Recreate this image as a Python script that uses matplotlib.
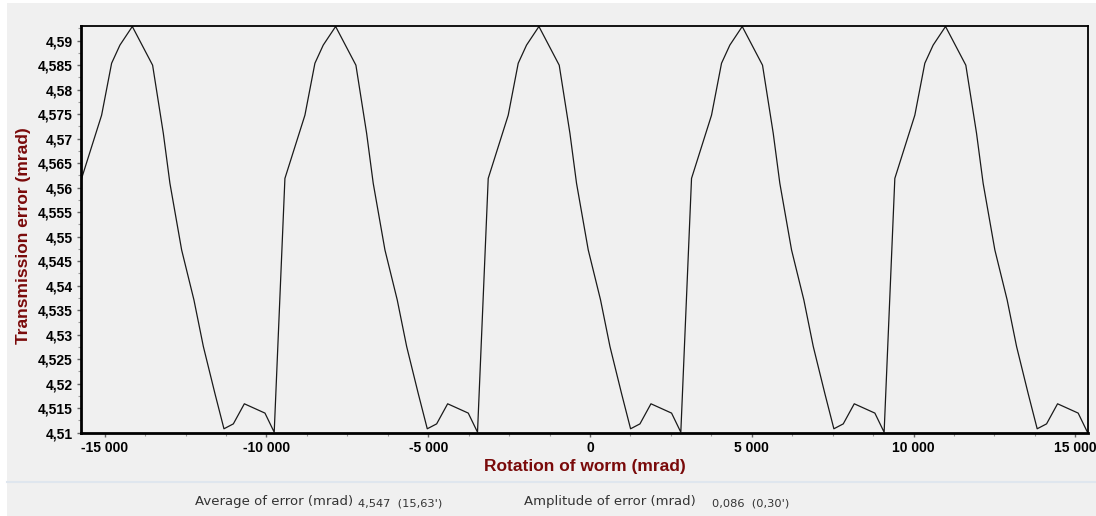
import matplotlib
matplotlib.use("Agg")
import matplotlib.pyplot as plt
from matplotlib.ticker import MultipleLocator, FuncFormatter
from matplotlib.patches import Rectangle

# one tooth period of the transmission error curve
# offsets (mrad) from the minimum at the bottom of each jump
period_dx = [0, 331, 949, 1258, 1515, 1898, 2525, 2856, 3060, 3422, 3802,
             4093, 4451, 4730, 5020, 5360, 5997]
period_err = [4.5101, 4.5619, 4.5748, 4.5854, 4.5891, 4.5929, 4.5850, 4.5711,
              4.5609, 4.5473, 4.5371, 4.5276, 4.5180, 4.5108, 4.5118, 4.5159,
              4.5140]
# positions of the minima (start of each period)
period_start = [-16042, -9759, -3476, 2807, 9090, 15373]

x_first, x_last = -15720, 15380
avg_text = "4,547  (15,63')"
amp_text = "0,086  (0,30')"

rotation = []
error = []
for s in period_start:
    for dx, e in zip(period_dx, period_err):
        if x_first <= s + dx <= x_last:
            rotation.append(s + dx)
            error.append(e)

fig = plt.figure(figsize=(10.96, 5.16), dpi=100, facecolor="white")
fig.patches.append(Rectangle((7 / 1096, 0), 1, 1 - 3 / 516, transform=fig.transFigure,
                             facecolor="#f0f0f0", edgecolor="none", zorder=-10))
# separator line above the stats panel
fig.lines.append(plt.Line2D([7 / 1096, 1], [1 - 482 / 516] * 2, transform=fig.transFigure,
                            color="#dfe6ee", lw=1.5))

ax = fig.add_axes([81 / 1096, 1 - 432.7 / 516, (1088.3 - 81) / 1096, (432.7 - 26) / 516])
ax.set_facecolor("#f0f0f0")
ax.plot(rotation, error, color="#1a1a1a", lw=0.9)

ax.set_xlim(-15730, 15400)
ax.set_ylim(4.51, 4.593)

ax.xaxis.set_major_locator(MultipleLocator(5000))
ax.xaxis.set_minor_locator(MultipleLocator(1250))
ax.yaxis.set_major_locator(MultipleLocator(0.005))
ax.yaxis.set_minor_locator(MultipleLocator(0.0025))
ax.xaxis.set_major_formatter(FuncFormatter(lambda v, p: f"{int(round(v)):,}".replace(",", " ")))
ax.yaxis.set_major_formatter(FuncFormatter(
    lambda v, p: f"{round(v, 4):.3f}".rstrip("0").rstrip(".").replace(".", ",")))

tick_font = {"family": "Liberation Sans", "weight": "bold", "size": 10}
for lab in ax.get_xticklabels() + ax.get_yticklabels():
    lab.set_fontproperties(matplotlib.font_manager.FontProperties(**tick_font))
ax.tick_params(which="major", length=3, width=1, color="#666666", pad=3)
ax.tick_params(which="minor", length=2, width=0.8, color="#999999")

ax.spines["left"].set_linewidth(2)
ax.spines["bottom"].set_linewidth(2)
ax.spines["top"].set_linewidth(1.3)
ax.spines["right"].set_linewidth(1.3)

label_font = dict(family="Liberation Sans", weight="bold", size=12.5, color="#7a0a0a")
ax.set_xlabel("Rotation of worm (mrad)", labelpad=3, **label_font)
ax.set_ylabel("Transmission error (mrad)", labelpad=4, **label_font)
ax.yaxis.set_label_coords(-0.05, 0.485)

# stats panel at the bottom
fig.text(195 / 1096, 1 - 502 / 516, "Average of error (mrad)", family="DejaVu Sans",
         size=9.5, color="#333333", va="center")
fig.text(358 / 1096, 1 - 503 / 516, avg_text, family="DejaVu Sans", size=8.2,
         color="#333333", va="center")
fig.text(524 / 1096, 1 - 502 / 516, "Amplitude of error (mrad)", family="DejaVu Sans",
         size=9.5, color="#333333", va="center")
fig.text(712 / 1096, 1 - 503 / 516, amp_text, family="DejaVu Sans", size=8.2,
         color="#333333", va="center")

fig.savefig("out.png", dpi=100, facecolor=fig.get_facecolor())
